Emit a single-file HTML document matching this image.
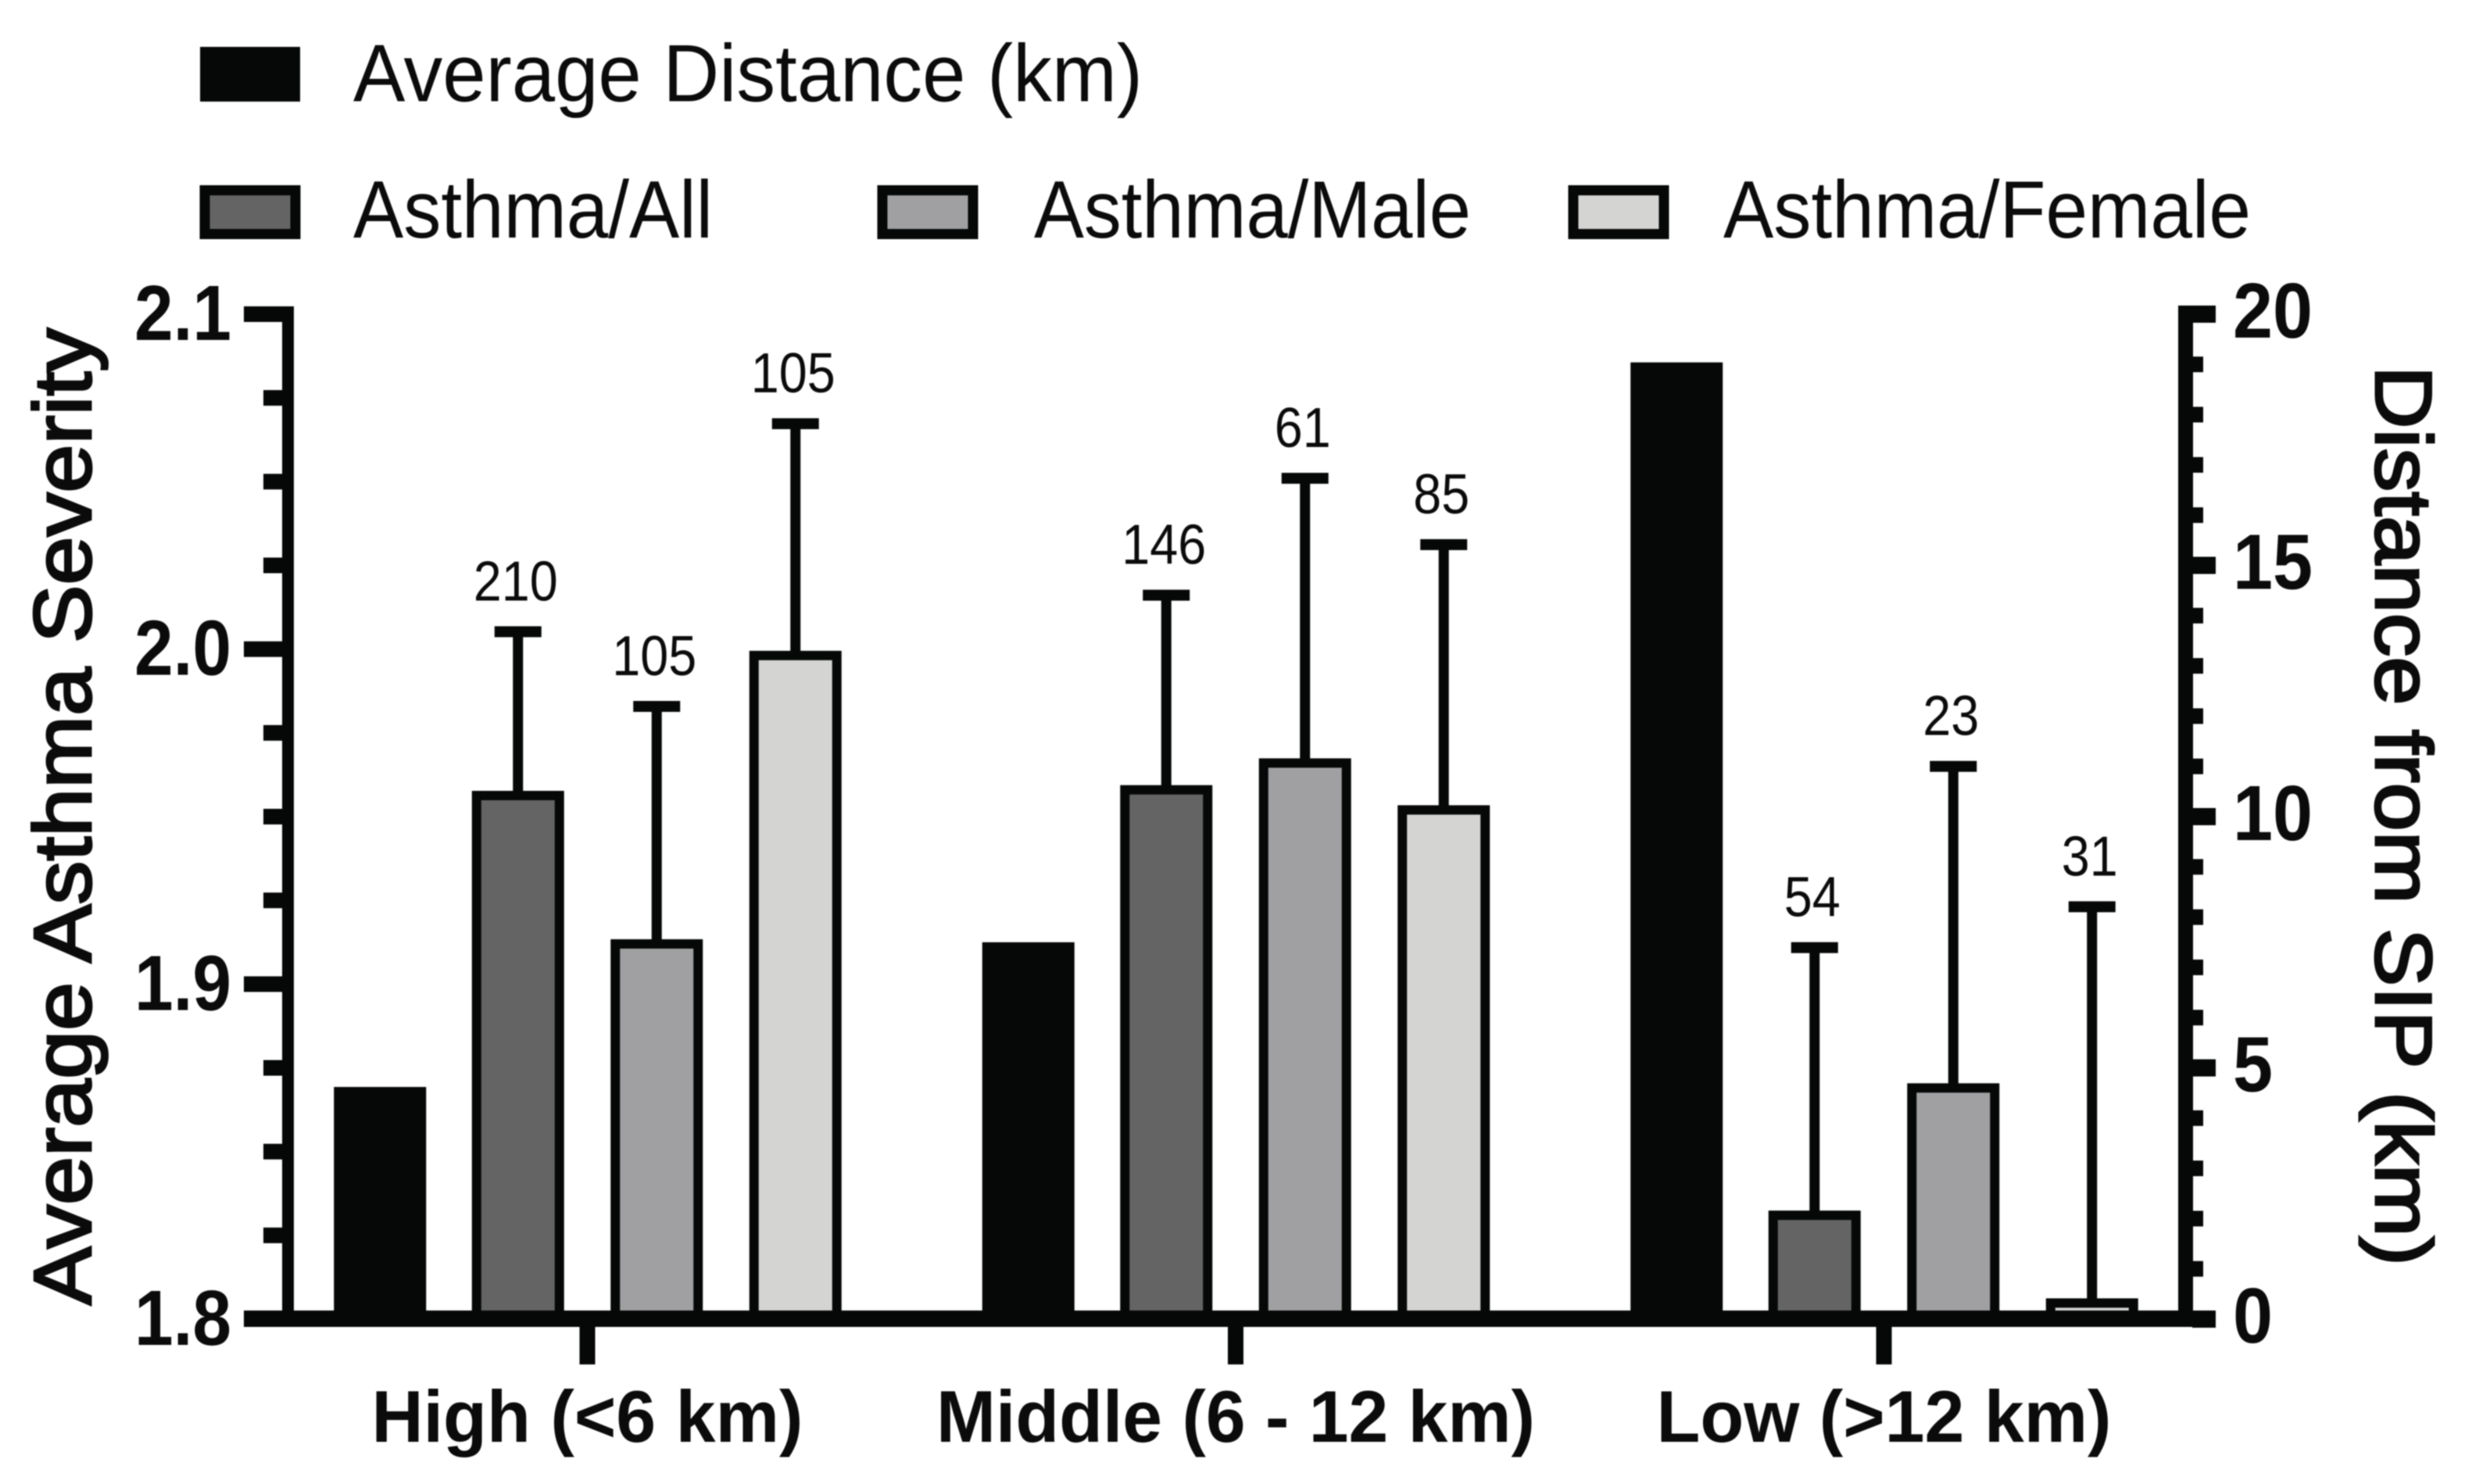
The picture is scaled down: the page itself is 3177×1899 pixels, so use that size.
<!DOCTYPE html>
<html lang="en">
<head>
<meta charset="utf-8">
<title>Average Asthma Severity and Distance from SIP</title>
<style>
  html, body { margin: 0; padding: 0; background: #ffffff; }
  svg { display: block; filter: blur(0.8px); }
  text { font-family: "Liberation Sans", Arial, sans-serif; fill: #0a0b0a; }
  .bold { font-weight: 700; }
</style>
</head>
<body>
<svg id="chart" xmlns="http://www.w3.org/2000/svg" width="3177" height="1899" viewBox="0 0 3177 1899">
  <rect x="0" y="0" width="3177" height="1899" fill="#ffffff"></rect>

  <g>
    <g>
      <rect x="256" y="60" width="128" height="70" fill="#060807"></rect>
      <text x="452" y="129.5" font-size="104" textLength="1010" lengthAdjust="spacingAndGlyphs" fill="#1a1b1a">Average Distance (km)</text>
    </g>
    <g>
      <rect x="262" y="243.5" width="116" height="56" fill="#636463" stroke="#060807" stroke-width="13"></rect>
      <text x="452" y="304" font-size="104" textLength="460" lengthAdjust="spacingAndGlyphs" fill="#1a1b1a">Asthma/All</text>
    </g>
    <g>
      <rect x="1129" y="243.5" width="116" height="56" fill="#a0a0a2" stroke="#060807" stroke-width="13"></rect>
      <text x="1323" y="304" font-size="104" textLength="559" lengthAdjust="spacingAndGlyphs" fill="#1a1b1a">Asthma/Male</text>
    </g>
    <g>
      <rect x="2013" y="243.5" width="116" height="56" fill="#d4d5d3" stroke="#060807" stroke-width="13"></rect>
      <text x="2205" y="304" font-size="104" textLength="675" lengthAdjust="spacingAndGlyphs" fill="#1a1b1a">Asthma/Female</text>
    </g>
  </g>

  <text transform="translate(116,1670) rotate(-90)" x="0" y="0" font-size="104" textLength="1250" lengthAdjust="spacingAndGlyphs" stroke="#0a0b0a" stroke-width="3">Average Asthma Severity</text>
  <text transform="translate(3040,468) rotate(90)" x="0" y="0" font-size="102" textLength="1152" lengthAdjust="spacingAndGlyphs" stroke="#0a0b0a" stroke-width="3">Distance from SIP (km)</text>

  <g id="marks"></g>
  <g id="axes"></g>
</svg>

<script>
// ----- chart data -----
const categories = ["High (<6 km)", "Middle (6 - 12 km)", "Low (>12 km)"];
const seriesNames = ["asthma-all", "asthma-male", "asthma-female"];
const averageDistance = [4.62, 7.5, 19.04];
const asthmaAll = [1.9577, 1.9594, 1.8324];
const asthmaMale = [1.9134, 1.9674, 1.8704];
const asthmaFemale = [1.9995, 1.9534, 1.8062];
const errorTopAll = [2.0052, 2.0161, 1.9109];
const errorTopMale = [1.9829, 2.0510, 1.9650];
const errorTopFemale = [2.0673, 2.0312, 1.9231];
const countsAll = ["210", "146", "54"];
const countsMale = ["105", "61", "23"];
const countsFemale = ["105", "85", "31"];
const leftTickValues = [1.8, 1.9, 2.0, 2.1];
const leftTickLabels = ["1.8", "1.9", "2.0", "2.1"];
const rightTickValues = [0, 5, 10, 15, 20];
const rightTickLabels = ["0", "5", "10", "15", "20"];

// ----- axis functions -----
const NS = "http://www.w3.org/2000/svg";
const baseY = 1688, topY = 402;
const leftMin = 1.8, leftMax = 2.1, rightMin = 0, rightMax = 20;
function yLeft(v) { return baseY - (v - leftMin) / (leftMax - leftMin) * (baseY - topY); }
function yRight(v) { return baseY - (v - rightMin) / (rightMax - rightMin) * (baseY - topY); }
function groupX(i) { return 752.5 + i * 829.5; }
function slotX(i, s) { return groupX(i) + (s - 1.5) * 177.5; }

const marks = document.getElementById("marks");
const axes = document.getElementById("axes");

function rect(parent, x, y, w, h, fill) {
  const el = document.createElementNS(NS, "rect");
  el.setAttribute("x", x);
  el.setAttribute("y", y);
  el.setAttribute("width", w);
  el.setAttribute("height", h);
  el.setAttribute("fill", fill);
  parent.appendChild(el);
  return el;
}
function label(parent, str, x, y, size, len) {
  const el = document.createElementNS(NS, "text");
  el.setAttribute("x", x);
  el.setAttribute("y", y);
  el.setAttribute("font-size", size);
  el.setAttribute("textLength", len);
  el.setAttribute("lengthAdjust", "spacingAndGlyphs");
  el.textContent = str;
  parent.appendChild(el);
  return el;
}

const INK = "#060807";
const BAR_W = 118, STROKE = 12;

// black distance bars (right axis)
averageDistance.forEach(function (v, i) {
  const top = yRight(v);
  const el = rect(marks, slotX(i, 0) - BAR_W / 2, top, BAR_W, baseY - top, INK);
  
  
});

// asthma bars with error bars (left axis)
const asthmaSeries = [asthmaAll, asthmaMale, asthmaFemale];
const errorSeries = [errorTopAll, errorTopMale, errorTopFemale];
const countSeries = [countsAll, countsMale, countsFemale];
const fills = ["#636463", "#a0a0a2", "#d4d5d3"];

asthmaSeries.forEach(function (values, s) {
  values.forEach(function (v, i) {
    const cx = slotX(i, s + 1) - 1;
    const top = yLeft(v);
    const errY = yLeft(errorSeries[s][i]);

    const whisker = rect(marks, cx - 6.5, errY, 13, top - errY + 6, INK);
    
    

    const cap = rect(marks, cx - 30, errY - 7, 60, 14, INK);
    
    

    const bar = rect(marks, cx - BAR_W / 2 + STROKE / 2, top + STROKE / 2, BAR_W - STROKE, baseY - top - STROKE / 2, fills[s]);
    bar.setAttribute("stroke", INK);
    bar.setAttribute("stroke-width", STROKE);
    
    

    const str = countSeries[s][i];
    const lbl = label(marks, str, cx - 3, errY - 40, 72, str.length * 36);
    lbl.setAttribute("text-anchor", "middle");
    lbl.setAttribute("fill", "#2a2b2a");
    
    
  });
});

// x axis line and ticks
const xAxis = rect(axes, 312, 1677, 2523, 21, INK);



const xLabelLengths = [552, 766, 582];
categories.forEach(function (c, i) {
  const t = rect(axes, groupX(i) - 11, 1698, 20, 48, INK);
  
  

  const l = label(axes, c, groupX(i) - 1, 1845, 94, xLabelLengths[i]);
  l.setAttribute("text-anchor", "middle");
  l.setAttribute("class", "bold");
  
  
});

// left axis
const leftSpine = rect(axes, 361, 392, 15, 1296, INK);



leftTickValues.forEach(function (v, i) {
  const y = yLeft(v);
  const t = rect(axes, 312, y - 10, 50, 20, INK);
  
  

  const l = label(axes, leftTickLabels[i], 172, y + 33, 100, 124);
  l.setAttribute("class", "bold");
  
  

  if (i < leftTickValues.length - 1) {
    const step = (leftTickValues[i + 1] - v) / 4;
    for (let k = 1; k < 4; k++) {
      const m = rect(axes, 337, yLeft(v + k * step) - 10, 25, 20, INK);
      
      
    }
  }
});

// right axis
const rightSpine = rect(axes, 2787, 391, 19, 1297, INK);



rightTickValues.forEach(function (v, i) {
  const y = yRight(v);
  const t = rect(axes, 2805, y - 11, 30, 22, INK);
  
  

  const str = rightTickLabels[i];
  const l = label(axes, str, 2857, y + 30, 100, str.length * 51);
  l.setAttribute("class", "bold");
  
  

  if (i < rightTickValues.length - 1) {
    const step = (rightTickValues[i + 1] - v) / 5;
    for (let k = 1; k < 5; k++) {
      const m = rect(axes, 2805, yRight(v + k * step) - 10, 14, 20, INK);
      
      
    }
  }
});
</script>
</body>
</html>
